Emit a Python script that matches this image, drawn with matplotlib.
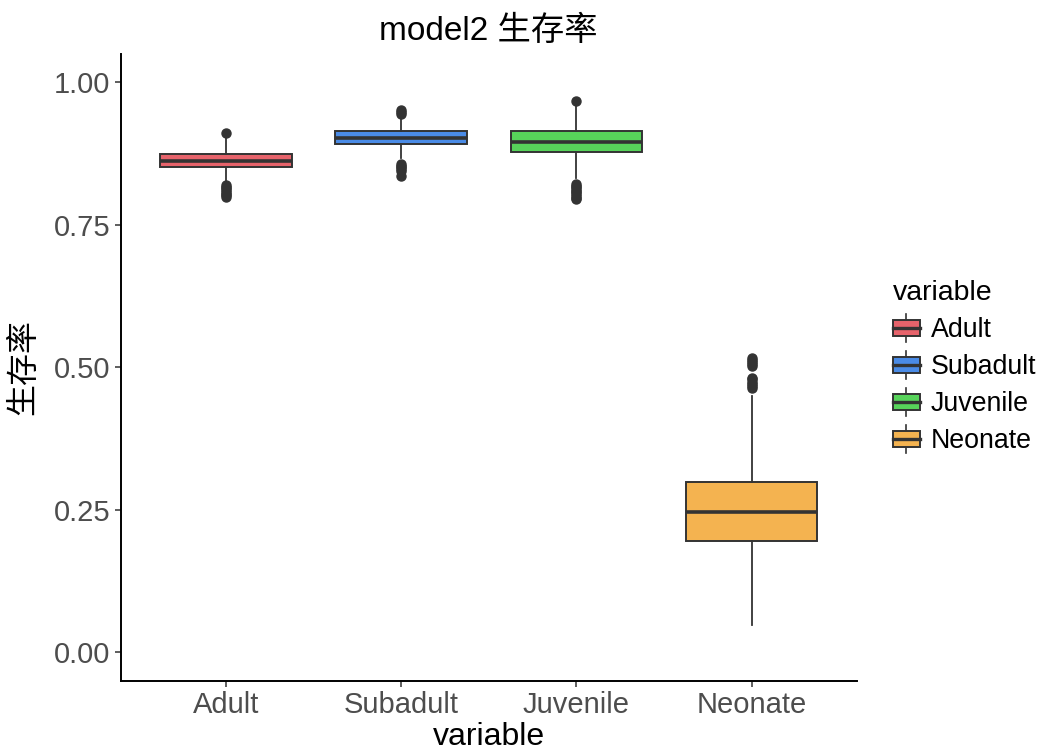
import numpy as np
import matplotlib
matplotlib.use("Agg")
import matplotlib.pyplot as plt
from matplotlib.patches import Rectangle, Patch
from matplotlib.lines import Line2D
from matplotlib.legend_handler import HandlerBase

plt.rcParams['font.family'] = ['Liberation Sans', 'Noto Sans CJK SC', 'DejaVu Sans']

# survival rate summary per stage
groups = ['Adult', 'Subadult', 'Juvenile', 'Neonate']
colors = ['#E6636B', '#4A8BE6', '#57D35A', '#F4B350']
q1 = [0.851, 0.892, 0.878, 0.195]
med = [0.862, 0.903, 0.896, 0.246]
q3 = [0.874, 0.914, 0.914, 0.299]
whislo = [0.825, 0.867, 0.832, 0.047]
whishi = [0.905, 0.938, 0.962, 0.450]
fliers = [
    [0.911, 0.799, 0.802, 0.805, 0.808, 0.811, 0.814, 0.817, 0.820],
    [0.944, 0.948, 0.951, 0.835, 0.845, 0.848, 0.851, 0.854, 0.857],
    [0.968, 0.795, 0.798, 0.801, 0.804, 0.807, 0.810, 0.813, 0.816, 0.819, 0.822],
    [0.463, 0.467, 0.471, 0.475, 0.479, 0.482, 0.502, 0.506, 0.510, 0.513, 0.516],
]
yticks = [0.0, 0.25, 0.5, 0.75, 1.0]
ytick_labels = ['0.00', '0.25', '0.50', '0.75', '1.00']

dark = '#333333'


class BoxKey(HandlerBase):
    def create_artists(self, legend, orig_handle, xdescent, ydescent,
                       width, height, fontsize, trans):
        x0, y0 = -xdescent, -ydescent
        xm = x0 + width / 2
        whisk = Line2D([xm, xm], [y0 - 0.05 * height, y0 + 1.05 * height],
                       color=dark, lw=1.2, transform=trans)
        box = Rectangle((x0, y0 + 0.2 * height), width, 0.6 * height,
                        facecolor=orig_handle.get_facecolor(), edgecolor=dark,
                        lw=1.4, transform=trans)
        mid = Line2D([x0, x0 + width], [y0 + height / 2] * 2, color=dark,
                     lw=2.4, transform=trans)
        return [whisk, box, mid]


fig = plt.figure(figsize=(10.46, 7.56), dpi=100)
ax = fig.add_axes([0.1154, 0.0996, 0.7036, 0.829])

stats = []
for i in range(len(groups)):
    stats.append({'label': groups[i], 'q1': q1[i], 'med': med[i], 'q3': q3[i],
                  'whislo': whislo[i], 'whishi': whishi[i], 'fliers': fliers[i]})

bp = ax.bxp(stats, positions=np.arange(len(groups)), widths=0.75,
            patch_artist=True, showcaps=False,
            boxprops=dict(edgecolor=dark, linewidth=1.4),
            medianprops=dict(color=dark, linewidth=2.6),
            whiskerprops=dict(color=dark, linewidth=1.3),
            flierprops=dict(marker='o', markerfacecolor=dark,
                            markeredgecolor=dark, markersize=6.5))
for patch, c in zip(bp['boxes'], colors):
    patch.set_facecolor(c)

ax.set_xlim(-0.6, 3.6)
ax.set_ylim(-0.05, 1.05)
ax.set_yticks(yticks)
ax.set_yticklabels(ytick_labels)
ax.set_xticks(np.arange(len(groups)))
ax.set_xticklabels(groups)

for s in ['top', 'right']:
    ax.spines[s].set_visible(False)
for s in ['left', 'bottom']:
    ax.spines[s].set_linewidth(1.4)
    ax.spines[s].set_color('black')
ax.tick_params(axis='both', colors=dark, labelcolor='#4D4D4D', length=4.5,
               width=1.1, labelsize=21, pad=3)

ax.set_title('model2 生存率', fontsize=24, pad=10)
ax.set_xlabel('variable', fontsize=23, labelpad=2)
ax.set_ylabel('生存率', fontsize=23, labelpad=10)

handles = [Patch(facecolor=c) for c in colors]
leg = ax.legend(handles, groups, handler_map={Patch: BoxKey()},
                title='variable', loc='upper left',
                bbox_to_anchor=(893 / 1046, 1 - 280 / 756),
                bbox_transform=fig.transFigure, frameon=False,
                fontsize=19.3, title_fontsize=20.5, alignment='left',
                handlelength=1.0, handleheight=1.12, labelspacing=0.33,
                handletextpad=0.4, borderpad=0, borderaxespad=0)

fig.savefig('out.png', dpi=100)
